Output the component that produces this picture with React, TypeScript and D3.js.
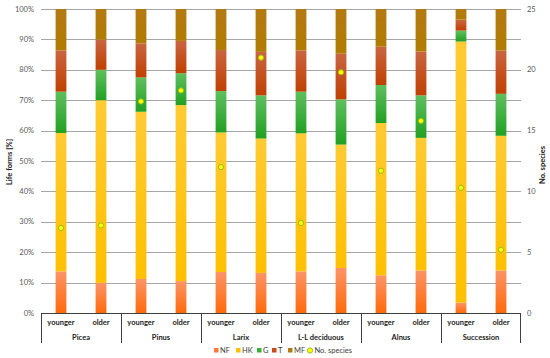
import * as d3 from "d3";

// Categories (outer group, inner age)
const groups = ["Picea", "Pinus", "Larix", "L-L deciduous", "Alnus", "Succession"];
const ages = ["younger", "older"];

// Life form shares per bar [%], order: group x age
const NF = [13.7, 9.9, 11.2, 10.5, 13.5, 13.2, 13.7, 14.8, 12.4, 14.0, 3.4, 14.0];
const HK = [45.5, 60.1, 55.0, 57.9, 45.9, 44.2, 45.4, 40.6, 50.1, 43.6, 85.9, 44.3];
const G = [13.6, 10.0, 11.3, 10.5, 13.6, 14.2, 13.7, 14.9, 12.5, 14.0, 3.6, 13.8];
const T = [13.6, 9.9, 11.2, 10.6, 13.5, 14.3, 13.6, 15.0, 12.6, 14.4, 3.6, 14.2];
const MF = [13.6, 10.1, 11.3, 10.5, 13.5, 14.1, 13.6, 14.7, 12.4, 14.0, 3.5, 13.7];

// Number of species (right axis)
const species = [7.0, 7.2, 17.4, 18.3, 12.0, 21.0, 7.4, 19.8, 11.7, 15.8, 10.3, 5.2];

const seriesNames = ["NF", "HK", "G", "T", "MF"];
const seriesValues = [NF, HK, G, T, MF];
const leftTicks = [0, 10, 20, 30, 40, 50, 60, 70, 80, 90, 100];
const rightTicks = [0, 5, 10, 15, 20, 25];

const colors: Record<string, [string, string, string]> = {
  // [top of gradient, bottom of gradient, legend]
  NF: ["#fb9468", "#ff6a0a", "#fb7a3c"],
  HK: ["#ffcb33", "#ffc000", "#ffc000"],
  G: ["#5fbf5f", "#22a022", "#3ab03a"],
  T: ["#c96542", "#c04000", "#c84a18"],
  MF: ["#b37a14", "#b07c00", "#b07c10"],
};

const width = 550;
const height = 358;
const margin = { top: 9, right: 29, bottom: 45, left: 41 };
const font = "Lato, 'Liberation Sans', sans-serif";

export default function App() {
  const labels = groups.flatMap((g) => ages.map((a) => `${g}|${a}`));
  const x = d3
    .scaleBand()
    .domain(labels)
    .range([margin.left, width - margin.right])
    .paddingInner(0.73)
    .paddingOuter(0.365);
  const y = d3
    .scaleLinear()
    .domain([0, 100])
    .range([height - margin.bottom, margin.top]);
  const y2 = d3
    .scaleLinear()
    .domain([0, 25])
    .range([height - margin.bottom, margin.top]);
  const groupX = d3
    .scaleBand()
    .domain(groups)
    .range([margin.left, width - margin.right]);

  const stack = d3
    .stack<number>()
    .keys(seriesNames.map((_, i) => String(i)))
    .value((i, k) => seriesValues[+k][i]);
  const stacked = stack(d3.range(labels.length));

  const x0 = margin.left;
  const x1 = width - margin.right;
  const base = y(0);

  const legendItems = [
    { name: "NF", x: 214 },
    { name: "HK", x: 236 },
    { name: "G", x: 257 },
    { name: "T", x: 272 },
    { name: "MF", x: 288 },
  ];

  return (
    <svg
      width={width}
      height={height}
      style={{ position: "absolute", left: 0, top: 0, background: "#fff" }}
      fontFamily={font}
    >
      <defs>
        {seriesNames.map((s) => (
          <linearGradient key={s} id={`grad-${s}`} x1="0" y1="0" x2="0" y2="1">
            <stop offset="0%" stopColor={colors[s][0]} />
            <stop offset="100%" stopColor={colors[s][1]} />
          </linearGradient>
        ))}
      </defs>

      {/* grid */}
      {leftTicks.map((t) => (
        <line
          key={t}
          x1={x0}
          x2={x1}
          y1={Math.round(y(t)) + 0.5}
          y2={Math.round(y(t)) + 0.5}
          stroke="#a6a6a6"
          strokeWidth={1}
        />
      ))}

      {/* left axis labels */}
      {leftTicks.map((t) => (
        <text
          key={t}
          x={34}
          y={y(t)}
          dy="0.35em"
          textAnchor="end"
          fontSize={7.5}
          fill="#595959"
        >
          {t}%
        </text>
      ))}

      {/* right axis labels */}
      {rightTicks.map((t) => (
        <text key={t} x={527} y={y2(t)} dy="0.35em" fontSize={7.5} fill="#595959">
          {t}
        </text>
      ))}

      {/* stacked bars */}
      {stacked.map((layer, si) => (
        <g key={si} fill={`url(#grad-${seriesNames[si]})`}>
          {layer.map((d, i) => (
            <rect
              key={i}
              x={x(labels[i])!}
              width={x.bandwidth()}
              y={y(d[1])}
              height={y(d[0]) - y(d[1])}
            />
          ))}
        </g>
      ))}

      {/* species points */}
      {species.map((v, i) => (
        <circle
          key={i}
          cx={x(labels[i])! + x.bandwidth() / 2}
          cy={y2(v)}
          r={2.6}
          fill="#ffff00"
          stroke="#9aba1a"
          strokeWidth={1}
        />
      ))}

      {/* category axis */}
      <line x1={x0} x2={x1} y1={base + 0.5} y2={base + 0.5} stroke="#404040" />
      {groups.map((g) => (
        <line
          key={g}
          x1={Math.round(groupX(g)!) + 0.5}
          x2={Math.round(groupX(g)!) + 0.5}
          y1={base}
          y2={base + 30}
          stroke="#404040"
        />
      ))}
      <line
        x1={x1 - 0.5}
        x2={x1 - 0.5}
        y1={base}
        y2={base + 30}
        stroke="#404040"
      />
      {labels.map((l) => (
        <text
          key={l}
          x={x(l)! + x.bandwidth() / 2}
          y={base + 12}
          textAnchor="middle"
          fontSize={7.5}
          fontWeight="bold"
          fill="#222"
        >
          {l.split("|")[1]}
        </text>
      ))}
      {groups.map((g) => (
        <text
          key={g}
          x={groupX(g)! + groupX.bandwidth() / 2}
          y={base + 27}
          textAnchor="middle"
          fontSize={7.5}
          fontWeight="bold"
          fill="#222"
        >
          {g}
        </text>
      ))}

      {/* axis titles */}
      <text
        transform={`translate(12,${162}) rotate(-90)`}
        textAnchor="middle"
        fontSize={7.5}
        fontWeight="bold"
        fill="#222"
      >
        Life forms [%]
      </text>
      <text
        transform={`translate(545,${165}) rotate(-90)`}
        textAnchor="middle"
        fontSize={7.5}
        fontWeight="bold"
        fill="#222"
      >
        No. species
      </text>

      {/* legend */}
      <g fontSize={7.5} fill="#404040">
        {legendItems.map((it) => (
          <g key={it.name}>
            <rect x={it.x} y={348} width={4.5} height={4.5} fill={colors[it.name][2]} />
            <text x={it.x + 6} y={350.5} dy="0.35em">
              {it.name}
            </text>
          </g>
        ))}
        <circle cx={310} cy={350.5} r={2.6} fill="#ffff00" stroke="#9aba1a" />
        <text x={314.5} y={350.5} dy="0.35em">
          No. species
        </text>
      </g>
    </svg>
  );
}
